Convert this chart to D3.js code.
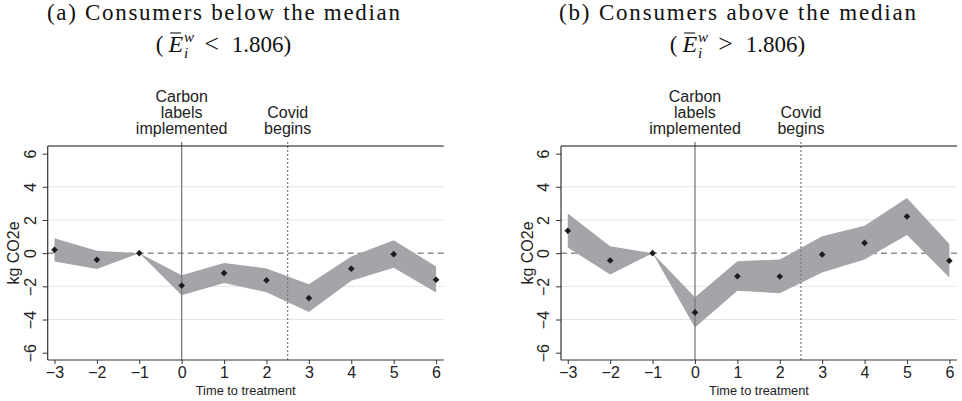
<!DOCTYPE html>
<html>
<head>
<meta charset="utf-8">
<script src="https://cdn.jsdelivr.net/npm/d3@7"></script>
<style>
  html, body { margin: 0; padding: 0; background: #fff; }
  svg { display: block; }
</style>
</head>
<body>
<svg id="chart" width="962" height="401"></svg>
<script>
// Event-study estimates by months to treatment
const periods = [-3, -2, -1, 0, 1, 2, 3, 4, 5, 6];

// (a) consumers below the median
const belowCoef = [0.2, -0.4, 0, -1.95, -1.2, -1.63, -2.71, -0.94, -0.06, -1.6];
const belowLo   = [-0.5, -0.96, 0, -2.53, -1.8, -2.35, -3.55, -1.67, -0.88, -2.37];
const belowHi   = [0.9, 0.14, 0, -1.33, -0.6, -0.92, -1.87, -0.2, 0.78, -0.8];

// (b) consumers above the median
const aboveCoef = [1.35, -0.44, 0, -3.57, -1.39, -1.41, -0.08, 0.62, 2.21, -0.46];
const aboveLo   = [0.34, -1.29, 0, -4.48, -2.27, -2.41, -1.16, -0.38, 1.1, -1.47];
const aboveHi   = [2.39, 0.42, 0, -2.65, -0.48, -0.38, 1.02, 1.65, 3.33, 0.56];

const yTicks = [-6, -4, -2, 0, 2, 4, 6];
const gridTicks = [-4, -2, 2, 4];
const eventAt = [0, 2.5];
const eventLabels = [["Carbon", "labels", "implemented"], ["Covid", "begins"]];

const titles = ["(a) Consumers below the median", "(b) Consumers above the median"];
const thresholdOps = ["<", ">"];
const threshold = "1.806";

const panels = [
  { coef: belowCoef, lo: belowLo, hi: belowHi, left: 47.7, titleX: 223.5, titleW: 353 },
  { coef: aboveCoef, lo: aboveLo, hi: aboveHi, left: 561,  titleX: 737.5, titleW: 357 }
];

const svg = d3.select("#chart");
const sans = "'Liberation Sans', Arial, Helvetica, sans-serif";
const serif = "'Liberation Serif', 'Times New Roman', serif";
const minus = s => String(s).replace("-", "\u2212");

const plotW = 396, plotTop = 146, plotBottom = 360;
const y = d3.scaleLinear().domain([-6.44, 6.46]).range([plotBottom, plotTop]);

panels.forEach((p, pi) => {
  const x = d3.scaleLinear().domain([-3.16, 6.18]).range([p.left, p.left + plotW]);
  const g = svg.append("g");

  // grid lines
  g.selectAll("line.grid").data(gridTicks).enter().append("line")
    .attr("x1", p.left).attr("x2", p.left + plotW)
    .attr("y1", d => y(d)).attr("y2", d => y(d))
    .attr("stroke", "#e3e3e3").attr("stroke-width", 1);

  // zero reference line
  g.append("line")
    .attr("x1", p.left).attr("x2", p.left + plotW)
    .attr("y1", y(0)).attr("y2", y(0))
    .attr("stroke", "#555").attr("stroke-width", 1)
    .attr("stroke-dasharray", "6,4");

  // confidence band
  const rows = periods.map((t, i) => ({ t, c: p.coef[i], lo: p.lo[i], hi: p.hi[i] }));
  const area = d3.area().x(d => x(d.t)).y0(d => y(d.lo)).y1(d => y(d.hi));
  g.append("path").datum(rows).attr("d", area).attr("fill", "#a4a5a9");

  // event lines
  g.append("line")
    .attr("x1", x(eventAt[0])).attr("x2", x(eventAt[0]))
    .attr("y1", plotTop - 4).attr("y2", plotBottom)
    .attr("stroke", "#7a7a7a").attr("stroke-width", 1.3);
  g.append("line")
    .attr("x1", x(eventAt[1])).attr("x2", x(eventAt[1]))
    .attr("y1", plotTop - 4).attr("y2", plotBottom)
    .attr("stroke", "#777").attr("stroke-width", 1.2)
    .attr("stroke-dasharray", "2,2");

  // top axis line
  g.append("line")
    .attr("x1", p.left).attr("x2", p.left + plotW)
    .attr("y1", plotTop).attr("y2", plotTop)
    .attr("stroke", "#111").attr("stroke-width", 1.2);

  // event labels
  eventAt.forEach((e, k) => {
    const lines = eventLabels[k];
    const baseBottom = 134.3;
    lines.forEach((txt, j) => {
      g.append("text")
        .attr("x", x(e))
        .attr("y", baseBottom - (lines.length - 1 - j) * 16)
        .attr("text-anchor", "middle")
        .attr("font-family", sans).attr("font-size", 16)
        .attr("fill", "#222")
        .text(txt);
    });
  });

  // point estimates
  g.selectAll("path.pt").data(rows).enter().append("path")
    .attr("d", d3.symbol(d3.symbolSquare, 22)())
    .attr("transform", d => `translate(${x(d.t)},${y(d.c)}) rotate(45)`)
    .attr("fill", "#1c1c1c");

  // bottom axis
  const xAxis = d3.axisBottom(x).tickValues(periods).tickSize(4).tickPadding(3)
    .tickFormat(d => minus(d));
  const xa = g.append("g").attr("transform", `translate(0,${plotBottom})`).call(xAxis);
  xa.select(".domain").attr("stroke", "#333").attr("stroke-width", 1.2)
    .attr("d", `M${p.left},0H${p.left + plotW}`);
  xa.selectAll(".tick line").attr("stroke", "#333");
  xa.selectAll(".tick text").attr("font-family", sans).attr("font-size", 16)
    .attr("fill", "#222").attr("dy", "0.71em");

  // left axis
  const yAxis = d3.axisLeft(y).tickValues(yTicks).tickSize(5).tickPadding(0)
    .tickFormat(d => minus(d));
  const ya = g.append("g").attr("transform", `translate(${p.left},0)`).call(yAxis);
  ya.select(".domain").attr("stroke", "#333").attr("stroke-width", 1.2)
    .attr("d", `M0,${plotTop}V${plotBottom}`);
  ya.selectAll(".tick line").attr("stroke", "#333");
  ya.selectAll(".tick text")
    .attr("font-family", sans).attr("font-size", 16).attr("fill", "#222")
    .attr("x", null).attr("dy", null)
    .attr("text-anchor", "middle")
    .attr("transform", "translate(-12,0) rotate(-90)");

  // axis titles
  g.append("text")
    .attr("transform", `translate(${p.left - 28.4},${(plotTop + plotBottom) / 2}) rotate(-90)`)
    .attr("text-anchor", "middle")
    .attr("font-family", sans).attr("font-size", 16).attr("fill", "#222")
    .text("kg CO2e");
  g.append("text")
    .attr("x", p.left + plotW / 2).attr("y", 395)
    .attr("text-anchor", "middle")
    .attr("font-family", sans).attr("font-size", 12.8).attr("fill", "#222")
    .text("Time to treatment");

  // panel title, first line
  svg.append("text")
    .attr("x", p.titleX).attr("y", 20)
    .attr("text-anchor", "middle")
    .attr("font-family", serif).attr("font-size", 23).attr("fill", "#111")
    .attr("textLength", p.titleW).attr("lengthAdjust", "spacing")
    .text(titles[pi]);

  // panel title, second line: (Ē_i^w < 1.806)
  const m = svg.append("g");
  let cx = 0;
  const piece = (txt, opts = {}) => {
    const t = m.append("text")
      .attr("x", cx).attr("y", opts.dy || 0)
      .attr("font-family", serif)
      .attr("font-size", opts.size || 23)
      .attr("font-style", opts.italic ? "italic" : "normal")
      .attr("fill", "#111")
      .text(txt);
    return t.node().getComputedTextLength();
  };
  cx += piece("(") + 5;
  cx += piece("E", { italic: true, size: 24 });
  const wx = cx + 1;
  // overbar on E
  m.append("line")
    .attr("x1", wx - 14).attr("x2", wx - 3)
    .attr("y1", -19).attr("y2", -19)
    .attr("stroke", "#111").attr("stroke-width", 1.1);
  cx = wx;
  const ww = piece("w", { italic: true, size: 15, dy: -10 });
  piece("i", { italic: true, size: 15, dy: 6 });
  cx = wx + ww + 10;
  cx += piece(thresholdOps[pi], { size: 26 }) + 13;
  cx += piece(threshold + ")");
  m.attr("transform", `translate(${p.titleX - cx / 2},52)`);
});
</script>
</body>
</html>
